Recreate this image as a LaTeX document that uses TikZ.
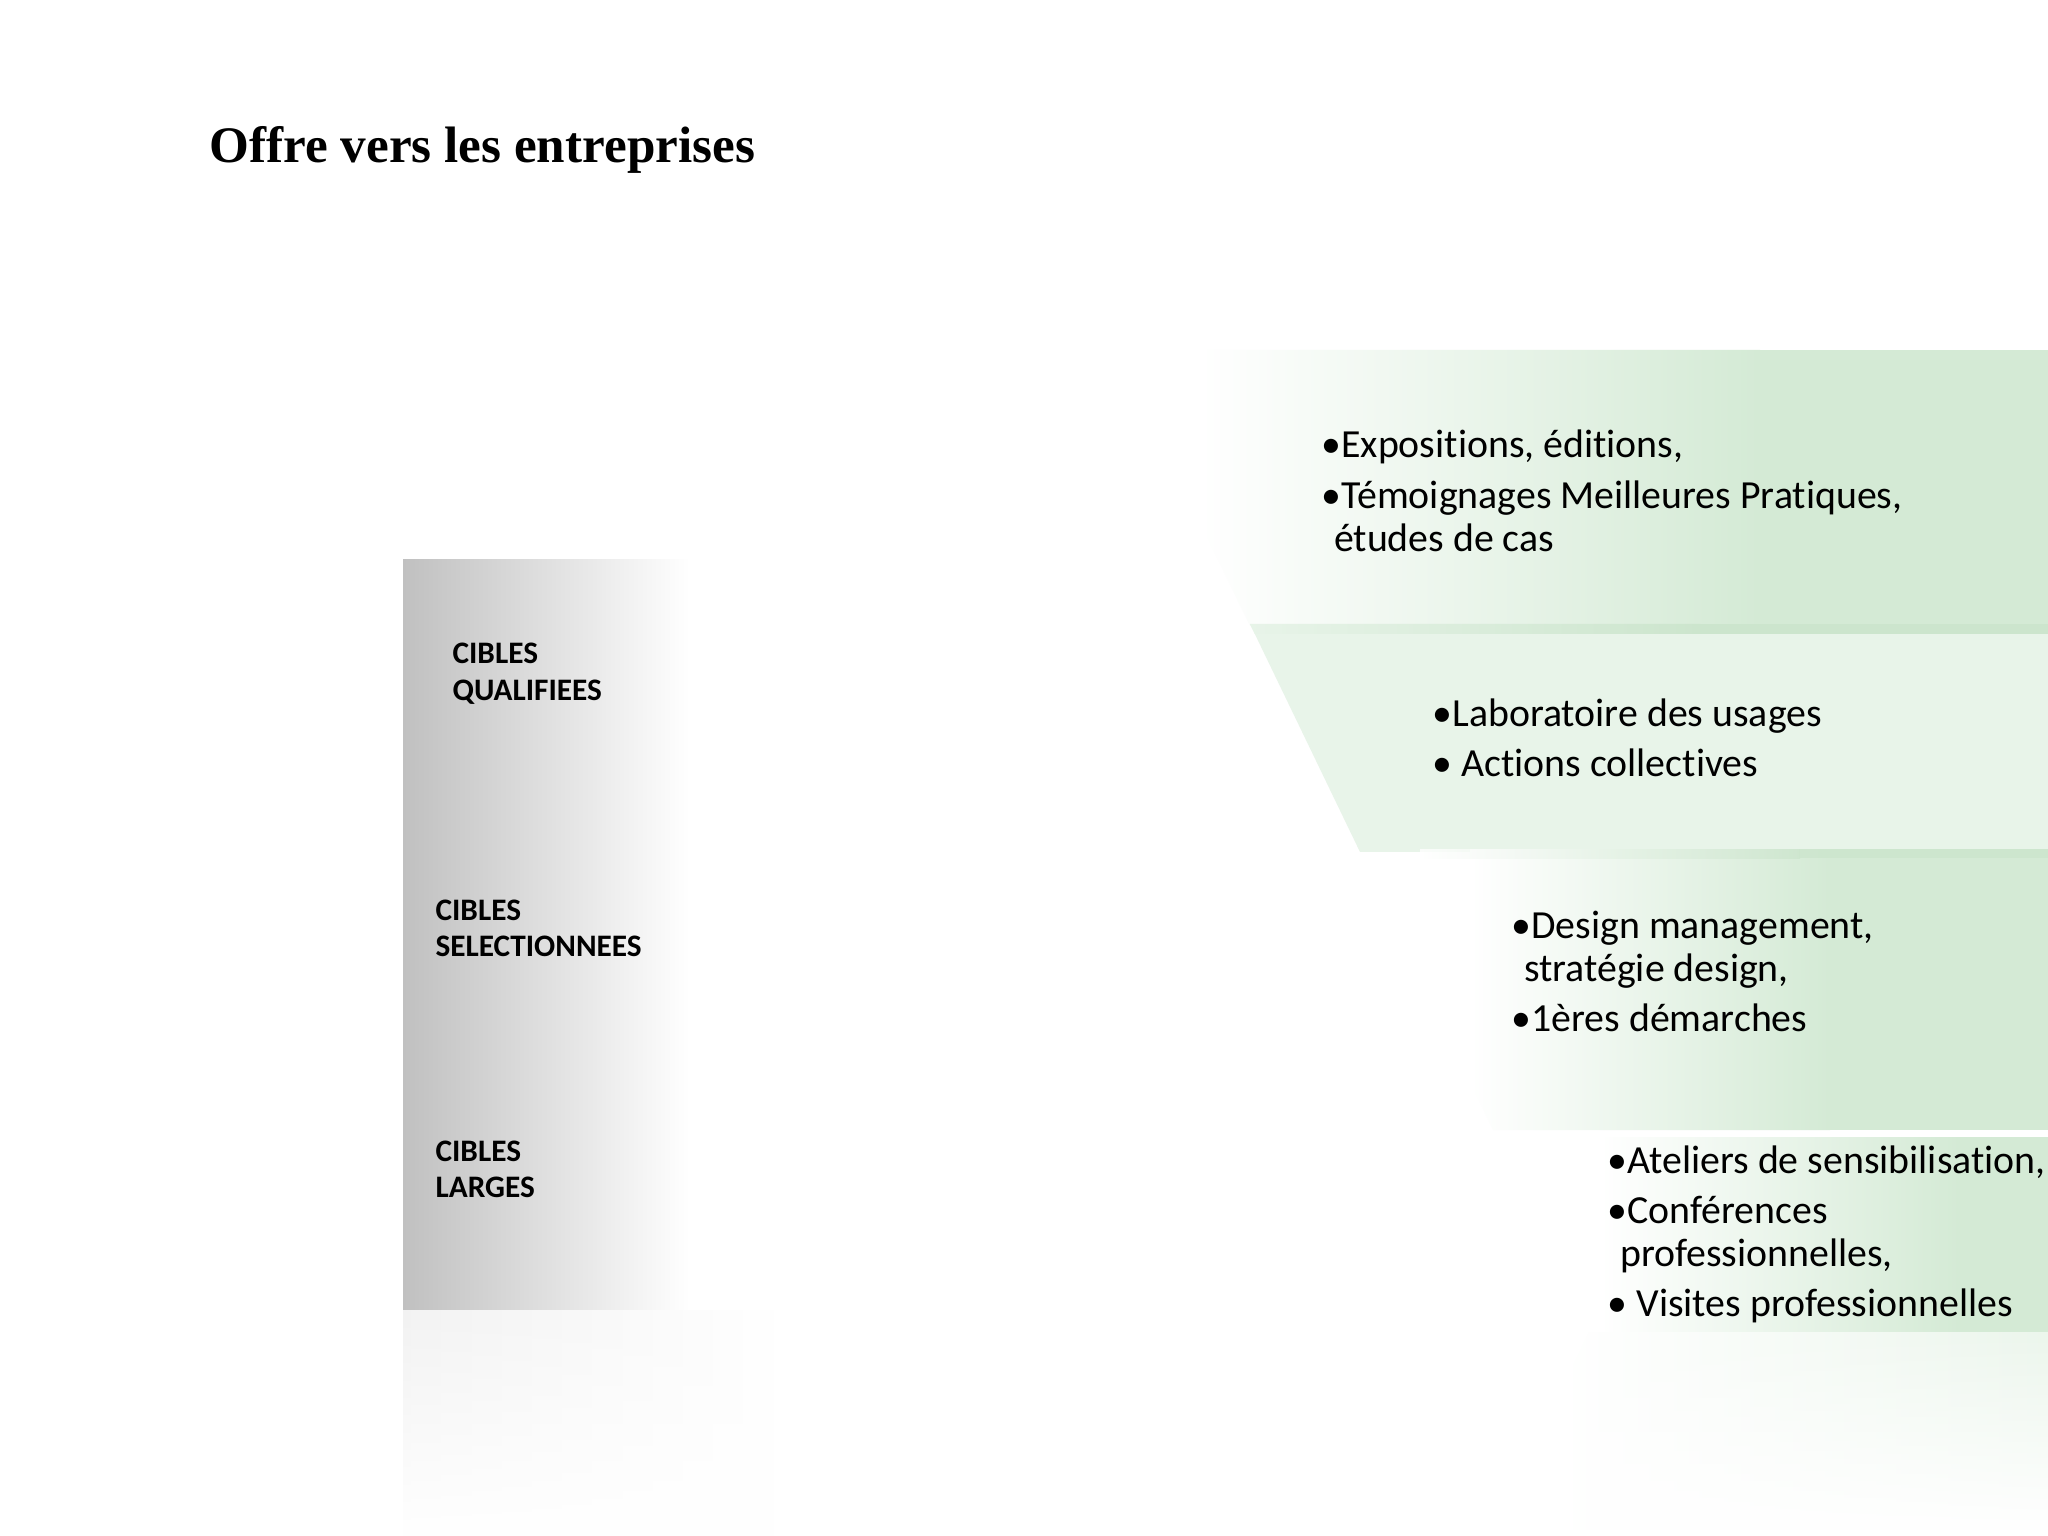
\documentclass[tikz,border=0pt]{standalone}
\usepackage{fontspec}
\setmainfont[Ligatures=NoCommon]{Carlito}
\newfontfamily\titlefont{Liberation Serif}
\usetikzlibrary{fadings}
\definecolor{gA}{RGB}{212,234,213}
\definecolor{gB}{RGB}{232,244,233}
\definecolor{gStrip}{RGB}{204,229,205}
\definecolor{grayL}{RGB}{192,192,192}
\tikzset{
  txt/.style={anchor=base west, inner sep=0pt, font=\fontsize{14}{15.2}\selectfont},
  lbl/.style={anchor=base west, inner sep=0pt, font=\fontsize{11}{13}\selectfont\bfseries},
  ttl/.style={anchor=base west, inner sep=0pt, font=\titlefont\bfseries\fontsize{18}{21}\selectfont}
}
\newcommand{\ind}{\hspace*{4.4pt}}
\begin{document}
\begin{tikzpicture}[x=0.3515625pt, y=-0.3515625pt]
\useasboundingbox[fill=white] (0,0) rectangle (2048,1536);

% ---------- grey column ----------
\shade[left color=grayL, right color=white] (403,560) rectangle (690,1311);
\shade[left color=black!5, right color=white, path fading=south] (403,1311) rectangle (788,1536);

% ---------- band 1 ----------
\begin{scope}
  \clip (1117,350) -- (2048,350) -- (2048,626) -- (1250,626) -- cycle;
  \shade[left color=white, right color=gA] (1200,350) rectangle (1760,626);
  \fill[gA] (1759,350) rectangle (2048,626);
\end{scope}

% ---------- band 2 ----------
\begin{scope}
  \clip (1250,624) -- (2048,624) -- (2048,852) -- (1360,852) -- cycle;
  \fill[gB] (1240,624) rectangle (2048,852);
  \shade[left color=gB, right color=gStrip] (1240,624) rectangle (1700,634);
  \fill[gStrip] (1699,624) rectangle (2048,634);
\end{scope}

% ---------- band 3 ----------
\begin{scope}
  \clip (1360,849) -- (2048,849) -- (2048,1130) -- (1493,1130) -- cycle;
  \shade[left color=white, right color=gA] (1470,849) rectangle (1830,1130);
  \fill[gA] (1829,849) rectangle (2048,1130);
  \shade[left color=white, right color=gStrip, opacity=0.8] (1420,849) rectangle (1800,858);
  \fill[gStrip, opacity=0.8] (1799,849) rectangle (2048,858);
\end{scope}

% ---------- band 4 ----------
\begin{scope}
  \clip (1496,1137) -- (2048,1137) -- (2048,1332) -- (1589,1332) -- cycle;
  \shade[left color=white, right color=gA] (1600,1137) rectangle (1960,1332);
  \fill[gA] (1959,1137) rectangle (2048,1332);
\end{scope}

% ---------- reflection ----------
\begin{scope}
  \clip (1589,1332) -- (2048,1332) -- (2048,1530) -- (1496,1530) -- cycle;
  \shade[left color=white, right color=gA!45!white, path fading=south] (1560,1332) rectangle (2048,1530);
\end{scope}

% ---------- title ----------
\node[ttl] (title) at (209,163) {Offre vers les entreprises};

% ---------- left labels ----------
\node[lbl] (c1) at (452,664) {\begin{tabular}[t]{@{}l@{}}CIBLES\\QUALIFIEES\end{tabular}};
\node[lbl] (c2) at (435,920) {\begin{tabular}[t]{@{}l@{}}CIBLES\\SELECTIONNEES\end{tabular}};
\node[lbl] (c3) at (435,1161) {\begin{tabular}[t]{@{}l@{}}CIBLES\\LARGES\end{tabular}};

% ---------- right texts ----------
\node[txt] (b1) at (1321,458) {\begin{tabular}[t]{@{}l@{}}•Expositions, éditions,\\[2.4pt]•Témoignages Meilleures Pratiques,\\\ind études de cas\end{tabular}};
\node[txt] (b2) at (1432,726) {\begin{tabular}[t]{@{}l@{}}•Laboratoire des usages\\[2.4pt]• Actions collectives\end{tabular}};
\node[txt] (b3) at (1511,938) {\begin{tabular}[t]{@{}l@{}}•Design management,\\\ind stratégie design,\\[2.4pt]•1ères démarches\end{tabular}};
\node[txt] (b4) at (1607,1173) {\begin{tabular}[t]{@{}l@{}}•Ateliers de sensibilisation,\\[2.4pt]•Conférences\\\ind professionnelles,\\[2.4pt]• Visites professionnelles\end{tabular}};
\end{tikzpicture}
\end{document}
